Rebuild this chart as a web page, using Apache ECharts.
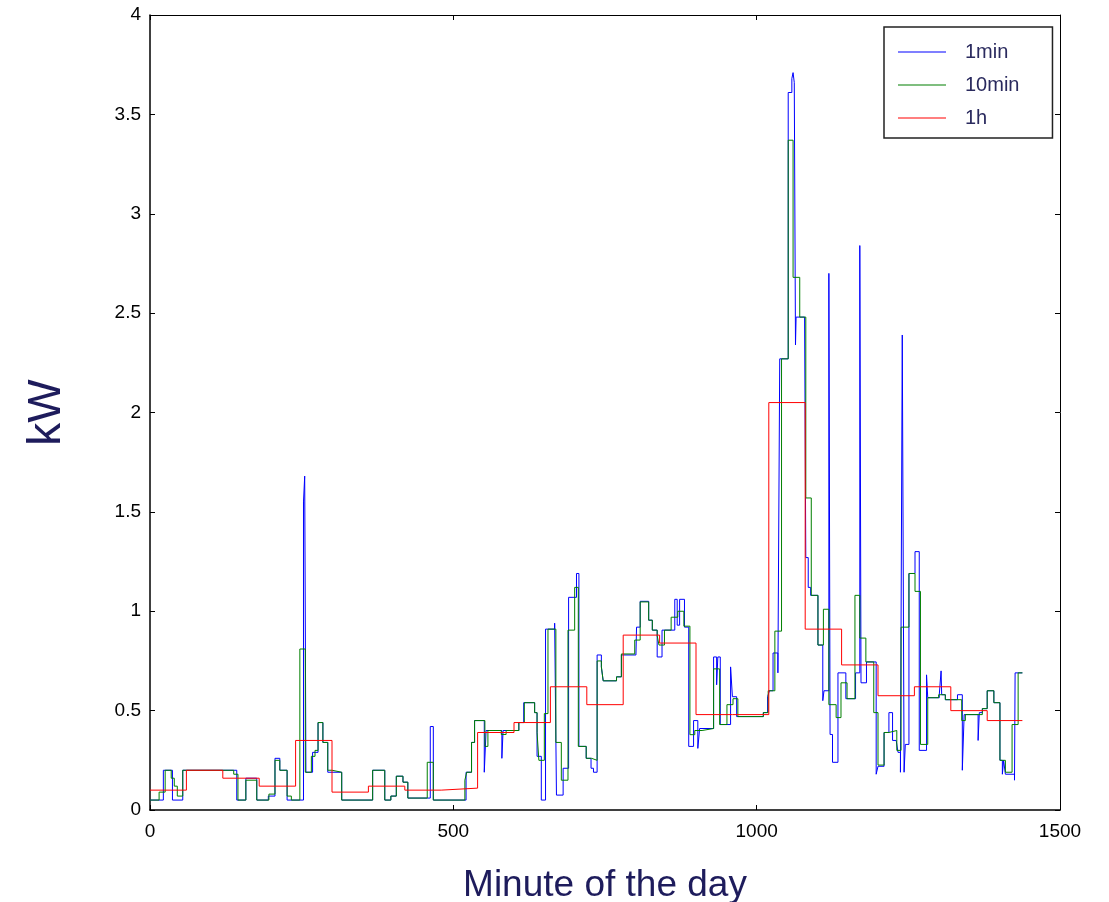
<!DOCTYPE html>
<html>
<head>
<meta charset="utf-8">
<script src="https://cdn.jsdelivr.net/npm/echarts@6/dist/echarts.min.js"></script>
<style>
html,body{margin:0;padding:0;background:#fff;}
#chart{width:1109px;height:902px;}
</style>
</head>
<body>
<div id="chart"></div>
<script>
// ---- data ----
// 1-minute series: change points (minute) and the value held from that minute on
var oneMinStart = [0,22,37,54,143,158,176,195,206,214,226,253,255,257,268,277,285,293,316,367,387,397,406,417,425,462,467,521,530,535,551,554,580,582,608,616,634,638,645,652,667,670,681,690,703,707,719,727,731,737,744,747,769,777,801,802,808,822,828,836,844,865,869,873,881,888,896,903,906,929,934,936,940,957,960,967,1011,1018,1021,1027,1035,1038,1052,1058,1060,1062,1064,1065,1079,1081,1085,1089,1101,1109,1111,1119,1121,1125,1134,1147,1163,1170,1172,1181,1197,1200,1210,1218,1224,1230,1233,1237,1240,1243,1245,1251,1261,1268,1280,1282,1301,1304,1305,1311,1331,1339,1342,1365,1367,1372,1380,1391,1401,1405,1407,1410,1425,1426];
var oneMinValue = [0.05,0.20,0.05,0.20,0.05,0.16,0.05,0.07,0.26,0.20,0.05,1.55,1.68,0.19,0.29,0.44,0.34,0.19,0.05,0.20,0.05,0.07,0.17,0.14,0.06,0.42,0.05,0.19,0.34,0.45,0.19,0.40,0.26,0.40,0.44,0.54,0.49,0.27,0.05,0.91,0.94,0.075,0.21,1.07,1.19,0.32,0.26,0.21,0.19,0.78,0.72,0.65,0.67,0.78,0.77,0.92,1.05,0.955,0.905,0.77,0.905,1.06,0.93,1.06,0.92,0.32,0.45,0.31,0.41,0.77,0.63,0.77,0.43,0.72,0.57,0.47,0.49,0.57,0.60,0.79,0.69,2.27,3.61,3.68,3.71,3.66,2.34,2.48,2.47,1.27,1.12,1.08,0.83,0.55,0.60,2.70,0.38,0.24,0.69,0.56,0.69,2.84,0.64,0.745,0.18,0.22,0.39,0.49,0.35,0.34,0.29,0.19,2.39,0.19,0.33,1.19,1.30,0.30,0.68,0.565,0.58,0.70,0.58,0.555,0.58,0.20,0.48,0.35,0.49,0.51,0.60,0.54,0.25,0.18,0.25,0.18,0.15,0.69];
// 10-minute series: change points and values
var tenMinStart = [0,15,25,35,40,45,54,138,145,158,176,196,206,214,226,233,247,256,266,272,277,285,293,300,316,367,387,397,406,417,425,457,467,519,522,530,535,552,557,579,587,608,617,634,638,641,650,656,669,678,689,700,706,719,728,737,744,747,769,777,799,808,822,828,836,839,848,859,870,880,890,898,910,929,939,951,961,969,1011,1019,1030,1041,1052,1060,1071,1081,1090,1101,1110,1119,1131,1139,1149,1162,1170,1180,1193,1200,1210,1218,1231,1238,1251,1261,1270,1282,1300,1311,1338,1344,1372,1380,1391,1401,1410,1421,1431];
var tenMinValue = [0.05,0.09,0.20,0.16,0.12,0.07,0.20,0.18,0.05,0.15,0.05,0.08,0.25,0.20,0.07,0.05,0.81,0.19,0.27,0.30,0.44,0.34,0.20,0.19,0.05,0.20,0.05,0.07,0.17,0.14,0.06,0.24,0.05,0.15,0.19,0.34,0.45,0.32,0.40,0.38,0.40,0.44,0.54,0.49,0.39,0.25,0.485,0.91,0.34,0.15,0.905,1.12,0.32,0.26,0.25,0.75,0.72,0.65,0.67,0.785,0.855,1.047,0.955,0.905,0.876,0.83,0.905,0.97,1.0,0.925,0.379,0.40,0.41,0.71,0.43,0.53,0.56,0.47,0.49,0.60,0.90,2.27,3.37,2.68,2.48,1.57,1.08,0.83,1.01,0.53,0.465,0.64,0.56,1.08,0.865,0.745,0.49,0.226,0.39,0.40,0.30,0.92,1.19,1.10,0.33,0.565,0.58,0.555,0.45,0.48,0.51,0.60,0.54,0.25,0.19,0.43,0.69];
// 1-hour series: one value per hour
var hourValue = [0.10,0.20,0.16,0.12,0.35,0.09,0.12,0.10,0.11,0.39,0.44,0.62,0.53,0.88,0.84,0.48,0.48,2.05,0.91,0.73,0.575,0.62,0.50,0.45];
var lastMinute = 1438;
var seriesNames = ['1min', '10min', '1h'];

function steps(starts, values) {
  var out = [];
  for (var i = 0; i < starts.length; i++) out.push([starts[i], values[i]]);
  out.push([lastMinute, values[values.length - 1]]);
  return out;
}
var hourStart = hourValue.map(function (v, i) { return i * 60; });

var FONT = '"Liberation Sans", Arial, sans-serif';
var NAVY = '#1e1c5c';
var chart = echarts.init(document.getElementById('chart'), null, {renderer: 'canvas'});
var axisLine = {show: true, onZero: false, lineStyle: {color: '#000', width: 1.5}};
var thinLine = {show: true, onZero: false, lineStyle: {color: '#000', width: 1}};
var tick = {show: true, inside: true, length: 5, lineStyle: {color: '#000', width: 1}};
chart.setOption({
  animation: false,
  backgroundColor: '#fff',
  grid: {left: 150, right: 49, top: 15, bottom: 92, containLabel: false, outerBoundsMode: 'none'},
  legend: {
    data: seriesNames,
    orient: 'vertical',
    left: 884, top: 27,
    padding: [15, 33, 10, 14],
    itemGap: 13,
    itemWidth: 48,
    itemHeight: 1,
    icon: 'rect',
    borderColor: '#222', borderWidth: 1.5,
    backgroundColor: '#fff',
    textStyle: {fontFamily: FONT, fontSize: 20, color: '#2a2a5e', padding: [0, 0, 0, 14]}
  },
  xAxis: [{
    type: 'value', min: 0, max: 1500, interval: 500,
    axisLine: axisLine, axisTick: tick, splitLine: {show: false},
    axisLabel: {fontFamily: FONT, fontSize: 19, color: '#000', margin: 12,
      formatter: function (v) { return String(v); }},
    name: 'Minute of the day', nameLocation: 'middle', nameGap: 57,
    nameTextStyle: {fontFamily: FONT, fontSize: 37, color: NAVY}
  }, {
    type: 'value', min: 0, max: 1500, interval: 500, position: 'top',
    axisLine: thinLine, axisTick: tick,
    axisLabel: {show: false}, splitLine: {show: false}
  }],
  yAxis: [{
    type: 'value', min: 0, max: 4, interval: 0.5,
    axisLine: axisLine, axisTick: tick, splitLine: {show: false},
    axisLabel: {fontFamily: FONT, fontSize: 19, color: '#000', margin: 9},
    name: 'kW', nameLocation: 'middle', nameGap: 80,
    nameTextStyle: {fontFamily: FONT, fontSize: 46, color: NAVY}
  }, {
    type: 'value', min: 0, max: 4, interval: 0.5, position: 'right',
    axisLine: thinLine, axisTick: tick,
    axisLabel: {show: false}, splitLine: {show: false}
  }],
  series: [{
    name: seriesNames[0], type: 'line', step: 'end', showSymbol: false,
    data: steps(oneMinStart, oneMinValue),
    itemStyle: {color: '#0000ff'}, lineStyle: {color: '#0000ff', width: 1}
  }, {
    name: seriesNames[1], type: 'line', step: 'end', showSymbol: false,
    data: steps(tenMinStart, tenMinValue),
    itemStyle: {color: '#007f00'}, lineStyle: {color: '#007f00', width: 1}
  }, {
    name: seriesNames[2], type: 'line', step: 'end', showSymbol: false,
    data: steps(hourStart, hourValue),
    itemStyle: {color: '#ff0000'}, lineStyle: {color: '#ff0000', width: 1}
  }]
});
</script>
</body>
</html>
